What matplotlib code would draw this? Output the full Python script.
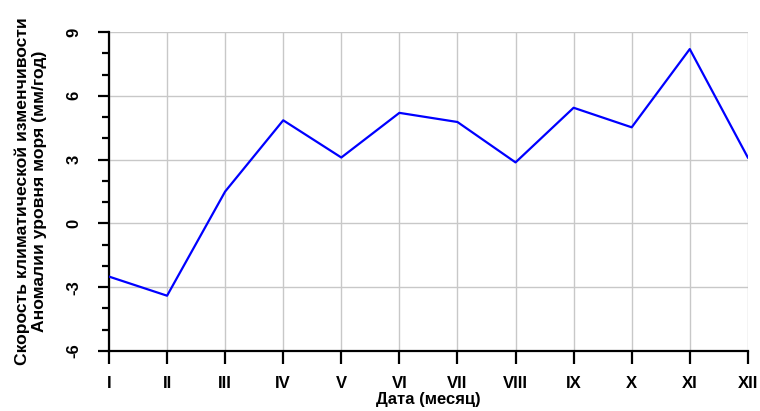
import matplotlib
matplotlib.use("Agg")
import matplotlib.pyplot as plt
from matplotlib.ticker import MultipleLocator

plt.rcParams['font.family'] = ['Liberation Sans', 'DejaVu Sans']
plt.rcParams['font.weight'] = 'bold'

months = ["I", "II", "III", "IV", "V", "VI", "VII", "VIII", "IX", "X", "XI", "XII"]
rate = [-2.5, -3.4, 1.5, 4.85, 3.1, 5.2, 4.77, 2.87, 5.44, 4.52, 8.2, 3.1]
y_ticks = [-6, -3, 0, 3, 6, 9]

fig = plt.figure(figsize=(7.6, 4.11), dpi=100)
ax = fig.add_axes([0.1434, 0.146, 0.8406, 0.776])

x = list(range(len(months)))
ax.plot(x, rate, color="#0000ff", linewidth=1.6, zorder=3)

ax.set_xlim(0, len(months) - 1)
ax.set_ylim(-6, 9)
ax.set_xticks(x)
ax.set_xticklabels(months, fontsize=12, fontweight="bold")
ax.set_yticks(y_ticks)
ax.set_yticklabels([str(v) for v in y_ticks], fontsize=12, fontweight="bold", rotation=90, va="center")
ax.yaxis.set_minor_locator(MultipleLocator(1))

ax.grid(True, which="major", color="#c8c8c8", linewidth=1.0)
ax.set_axisbelow(True)
for side in ["top", "right"]:
    ax.spines[side].set_visible(False)
for side in ["left", "bottom"]:
    ax.spines[side].set_linewidth(1.6)

ax.tick_params(axis="y", which="major", length=8, width=1.6, pad=12)
ax.tick_params(axis="y", which="minor", length=5, width=1.6)
ax.tick_params(axis="x", which="major", length=9, width=1.6, pad=9)

ax.set_xlabel("Дата (месяц)", fontsize=12, fontweight="bold", labelpad=1)
ax.set_ylabel("Скорость климатической изменчивости\nАномалии уровня моря (мм/год)",
              fontsize=12.6, fontweight="bold", labelpad=14, linespacing=1.15)

fig.savefig("out.png", dpi=100)
